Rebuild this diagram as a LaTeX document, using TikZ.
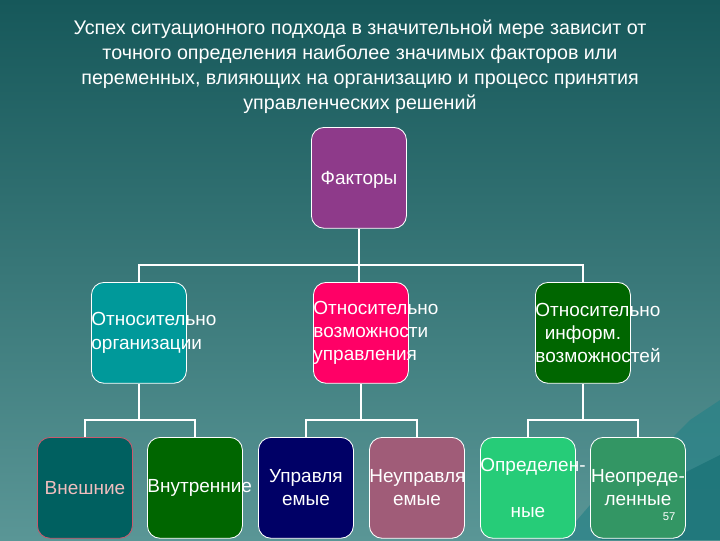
\documentclass[tikz,border=0pt]{standalone}
\usepackage{fontspec}
\setmainfont{Liberation Sans}
\definecolor{bgtop}{RGB}{22,88,90}
\definecolor{bgbot}{RGB}{90,150,150}
\definecolor{mtA}{RGB}{40,130,135}
\definecolor{mtB}{RGB}{20,110,115}
\definecolor{cF}{RGB}{142,58,138}
\definecolor{cA}{RGB}{0,153,154}
\definecolor{cB}{RGB}{255,0,102}
\definecolor{cC}{RGB}{0,102,0}
\definecolor{cAa}{RGB}{0,96,96}
\definecolor{cAaD}{RGB}{200,90,110}
\definecolor{cAaT}{RGB}{240,190,190}
\definecolor{cBa}{RGB}{0,0,102}
\definecolor{cBb}{RGB}{160,92,120}
\definecolor{cCa}{RGB}{38,204,120}
\definecolor{cCb}{RGB}{51,150,100}
\begin{document}
\begin{tikzpicture}[x=0.025cm,y=-0.025cm,
  bx/.style={draw=white,line width=0.6pt,rounded corners=9pt,text width=2.375cm,minimum height=2.52cm,anchor=north west,text=white,font=\fontsize{13.5}{16.5}\selectfont,align=center,inner sep=0pt},
  ln/.style={draw=white,line width=1.2pt}]
\useasboundingbox (0,0) rectangle (720,540);
\shade[top color=bgtop,bottom color=bgbot] (0,0) rectangle (720,540);
\fill[mtA,opacity=0.7] (560,540) -- (620,470) -- (660,450) -- (690,420) -- (720,400) -- (720,540) -- cycle;
\fill[mtB,opacity=0.6] (600,540) -- (650,490) -- (690,470) -- (720,455) -- (720,540) -- cycle;
\node[text=white,align=center,font=\fontsize{14}{17.8}\selectfont] (title) at (360,67) {Успех ситуационного подхода в значительной мере зависит от\\точного определения наиболее значимых факторов или\\переменных, влияющих на организацию и процесс принятия\\управленческих решений};
\node[bx,fill=cF] (f) at (311,127) {};
\node[text=white,font=\fontsize{13.5}{16.5}\selectfont] (ft) at (359,180) {Факторы};
\node[bx,fill=cA] (a) at (91,282) {Относительно\\организации};
\node[bx,fill=cB] (b) at (313,282) {Относительно\\возможности\\управления};
\node[bx,fill=cC] (c) at (535,282) {Относительно\\информ.\\возможностей};
\node[bx,draw=cAaD,fill=cAa,text=cAaT] (a1) at (37,437) {Внешние};
\node[bx,fill=cC] (a2) at (147,437) {Внутренние};
\node[bx,fill=cBa] (b1) at (258,437) {Управля\\емые};
\node[bx,fill=cBb] (b2) at (369,437) {Неуправля\\емые};
\node[bx,fill=cCa] (c1) at (480,437) {Определен-\\ные};
\node[bx,fill=cCb] (c2) at (590,437) {Неопреде-\\ленные};
\node[text=white,font=\fontsize{8}{9}\selectfont] (pg) at (669,517) {57};
\draw[ln] (f.south) -- (f.south |- b.north);
\draw[ln] (a.north) -- ++(0,-17) -| (c.north);
\draw[ln] (a.south) -- ++(0,37);
\draw[ln] (a1.north) -- ++(0,-17) -| (a2.north);
\draw[ln] (b.south) -- ++(0,37);
\draw[ln] (b1.north) -- ++(0,-17) -| (b2.north);
\draw[ln] (c.south) -- ++(0,37);
\draw[ln] (c1.north) -- ++(0,-17) -| (c2.north);
\end{tikzpicture}
\end{document}
